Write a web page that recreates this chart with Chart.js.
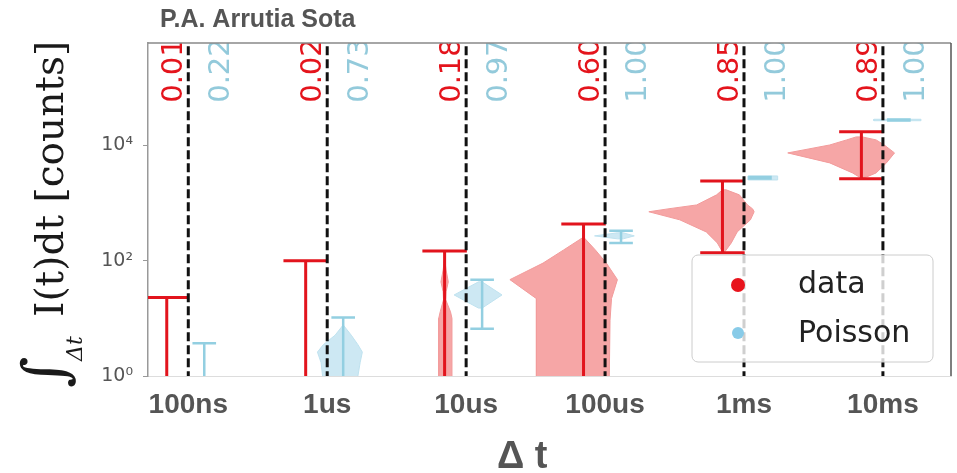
<!DOCTYPE html>
<html>
<head>
<meta charset="utf-8">
<script src="https://cdn.jsdelivr.net/npm/chart.js@4/dist/chart.umd.min.js"></script>
<style>
  html, body { margin: 0; padding: 0; background: #ffffff; }
  canvas { display: block; }
</style>
</head>
<body>
<canvas id="chart" width="957" height="473"></canvas>
<script>
// Integration windows
const categories = ['100ns', '1us', '10us', '100us', '1ms', '10ms'];

// Log axis ticks
const yTicks = [1, 100, 10000];
const yTickLabels = ['10⁰', '10²', '10⁴'];

// Fractions printed above each window
const dataFraction = ['0.01', '0.02', '0.18', '0.60', '0.85', '0.89'];
const poissonFraction = ['0.22', '0.73', '0.97', '1.00', '1.00', '1.00'];

// Error bar extents in counts
const dataLow = [0.5, 0.5, 0.5, 0.5, 137, 2640];
const dataHigh = [23, 100, 148, 436, 2430, 17300];
const poissonLow = [0.5, 0.5, 6.6, 204, 2680, 27100];
const poissonHigh = [3.7, 10.4, 47, 330, 2830, 28300];

// Violin profiles, top to bottom: [counts, density left, density right]
const dataViolin100ns = [];
const dataViolin1us = [];
const dataViolin10us = [
  [112, 0, 0], [69, 0.02, 0.02], [43, 0.05, 0.05], [29, 0.02, 0.02], [21, 0.015, 0.015],
  [13, 0.06, 0.08], [10, 0.08, 0.1], [1, 0.08, 0.1], [0.4, 0.08, 0.1]
];
const dataViolin100us = [
  [257, 0, 0], [154, 0.27, 0.16], [91, 0.55, 0.31], [47, 1.0, 0.46], [22, 0.64, 0.38],
  [9.3, 0.64, 0.36], [1, 0.64, 0.35], [0.4, 0.64, 0.35]
];
const dataViolin1ms = [
  [1700, 0, 0.05], [1390, 0.08, 0.23], [930, 0.35, 0.34], [794, 0.74, 0.41], [708, 1.0, 0.43],
  [513, 0.58, 0.38], [316, 0.22, 0.2], [204, 0.07, 0.12], [142, 0, 0.03]
];
const dataViolin10ms = [
  [14100, 0.07, 0.01], [12500, 0.2, 0.2], [10200, 0.43, 0.31], [7430, 1.0, 0.45],
  [4990, 0.43, 0.34], [3340, 0.12, 0.2], [2840, 0.03, 0.07], [2700, 0, 0]
];

const poissonViolin100ns = [];
const poissonViolin1us = [
  [7.7, 0, 0], [5.1, 0.11, 0.11], [3.5, 0.27, 0.2], [2.6, 0.35, 0.26], [1.7, 0.3, 0.23],
  [1, 0.28, 0.2], [0.4, 0.28, 0.2]
];
const poissonViolin10us = [[43, 0.05, 0], [25.5, 0.38, 0.27], [15.1, 0.05, 0]];
const poissonViolin100us = [[305, 0.05, 0.03], [270, 0.36, 0.18], [240, 0.05, 0.03]];
const poissonViolin1ms = [[2960, 0.16, 0.24], [2750, 0.16, 0.24], [2520, 0.16, 0.24]];
const poissonViolin10ms = [[28500, 0.34, 0.3], [27700, 0.34, 0.3], [26900, 0.34, 0.3]];

const dataViolins = [dataViolin100ns, dataViolin1us, dataViolin10us, dataViolin100us, dataViolin1ms, dataViolin10ms];
const poissonViolins = [poissonViolin100ns, poissonViolin1us, poissonViolin10us, poissonViolin100us, poissonViolin1ms, poissonViolin10ms];

// Drawing geometry (in category units)
const DATA_SHIFT = -0.155;
const POISSON_SHIFT = 0.115;
const DATA_CAP = 0.16;
const POISSON_CAP = 0.085;
const WIDTH_PER_DENSITY = 0.53;

const RED = '#e2141d';
const RED_FILL = '#f6a6a6';
const BLUE = '#93cfe1';
const BLUE_FILL = '#cde8f3';

function violinOutline(profile, cx) {
  if (!profile.length) return [];
  const left = profile.map(([v, l]) => ({ x: cx - l * WIDTH_PER_DENSITY, y: v }));
  const right = profile.slice().reverse().map(([v, , r]) => ({ x: cx + r * WIDTH_PER_DENSITY, y: v }));
  return left.concat(right, [left[0]]);
}

function errorBarPoints(lows, highs, shift, cap) {
  const pts = [];
  lows.forEach((lo, i) => {
    const cx = i + shift, hi = highs[i];
    pts.push({ x: cx - cap, y: hi }, { x: cx + cap, y: hi }, { x: cx, y: null });
    pts.push({ x: cx, y: hi }, { x: cx, y: lo }, { x: cx, y: null });
    pts.push({ x: cx - cap, y: lo }, { x: cx + cap, y: lo }, { x: cx, y: null });
  });
  return pts;
}

const datasets = [];

// dashed window markers
const markerPts = [];
categories.forEach((c, i) => { markerPts.push({ x: i, y: 0.3 }, { x: i, y: 2e6 }, { x: i, y: null }); });
datasets.push({
  label: 'window', data: markerPts, borderColor: '#111111', borderWidth: 3,
  borderDash: [9, 4], fill: false, order: 1
});

// error bars
datasets.push({
  label: 'data range', data: errorBarPoints(dataLow, dataHigh, DATA_SHIFT, DATA_CAP),
  borderColor: RED, borderWidth: 3, fill: false, order: 2
});
datasets.push({
  label: 'Poisson range', data: errorBarPoints(poissonLow, poissonHigh, POISSON_SHIFT, POISSON_CAP),
  borderColor: BLUE, borderWidth: 2.5, fill: false, order: 2
});

// violins
dataViolins.forEach((p, i) => {
  datasets.push({
    label: 'data ' + categories[i], data: violinOutline(p, i + DATA_SHIFT),
    borderColor: '#f29b9b', borderWidth: 1, backgroundColor: RED_FILL, fill: 'shape', order: 3
  });
});
poissonViolins.forEach((p, i) => {
  datasets.push({
    label: 'Poisson ' + categories[i], data: violinOutline(p, i + POISSON_SHIFT),
    borderColor: '#bfe2ef', borderWidth: 1, backgroundColor: BLUE_FILL, fill: 'shape', order: 3
  });
});

const FRACTION_LEVEL = 5.5e4;

const decorations = {
  id: 'decorations',
  afterDatasetsDraw(chart) {
    const { ctx, chartArea: a, scales: { x, y } } = chart;

    // fractions above each window
    ctx.save();
    ctx.beginPath();
    ctx.rect(a.left, a.top, a.right - a.left, a.bottom - a.top);
    ctx.clip();
    ctx.font = '29px "DejaVu Sans"';
    ctx.textAlign = 'left';
    ctx.textBaseline = 'alphabetic';
    const yl = y.getPixelForValue(FRACTION_LEVEL);
    categories.forEach((c, i) => {
      [[dataFraction[i], -0.045, '#e4141c'], [poissonFraction[i], 0.295, '#93cadb']].forEach(([t, dx, col]) => {
        ctx.save();
        ctx.translate(x.getPixelForValue(i + dx), yl);
        ctx.rotate(-Math.PI / 2);
        ctx.fillStyle = col;
        ctx.fillText(t, 0, 0);
        ctx.restore();
      });
    });
    ctx.restore();

    // top and right frame
    ctx.save();
    ctx.lineWidth = 1.5;
    ctx.strokeStyle = '#888888';
    ctx.beginPath();
    ctx.moveTo(a.left, a.top);
    ctx.lineTo(a.right, a.top);
    ctx.stroke();
    ctx.strokeStyle = '#555555';
    ctx.beginPath();
    ctx.moveTo(a.right, a.top);
    ctx.lineTo(a.right, a.bottom);
    ctx.stroke();
    ctx.restore();

    // legend
    ctx.save();
    const lx = 692, ly = 255, lw = 241, lh = 107;
    ctx.beginPath();
    ctx.roundRect(lx, ly, lw, lh, 6);
    ctx.fillStyle = 'rgba(255,255,255,0.8)';
    ctx.fill();
    ctx.strokeStyle = '#cccccc';
    ctx.lineWidth = 1;
    ctx.stroke();
    ctx.fillStyle = '#e8141c';
    ctx.beginPath(); ctx.arc(738, 285, 7, 0, Math.PI * 2); ctx.fill();
    ctx.fillStyle = '#88cbe8';
    ctx.beginPath(); ctx.arc(738, 333, 6, 0, Math.PI * 2); ctx.fill();
    ctx.fillStyle = '#222222';
    ctx.font = '30px "DejaVu Sans"';
    ctx.textAlign = 'left';
    ctx.textBaseline = 'alphabetic';
    ctx.fillText('data', 798, 293);
    ctx.fillText('Poisson', 798, 342);
    ctx.restore();
  },
  afterDraw(chart) {
    const { ctx } = chart;
    ctx.save();
    ctx.fillStyle = '#555555';
    ctx.textAlign = 'left';
    ctx.textBaseline = 'alphabetic';
    ctx.font = 'bold 25px "Liberation Sans", Arial, sans-serif';
    ctx.fillText('P.A. Arrutia Sota', 160, 27);
    ctx.font = 'bold 38px "Liberation Sans", Arial, sans-serif';
    ctx.fillText('Δ t', 497, 468);
    ctx.restore();

    // y axis title
    ctx.save();
    ctx.translate(0, 388);
    ctx.rotate(-Math.PI / 2);
    ctx.fillStyle = '#1a1a1a';
    ctx.textAlign = 'left';
    ctx.textBaseline = 'alphabetic';
    ctx.font = '60px "DejaVu Serif"';
    ctx.fillText('∫', 0, 65);
    ctx.font = 'italic 22px "DejaVu Serif"';
    ctx.fillText('Δt', 27, 82);
    ctx.font = '39px "DejaVu Serif"';
    ctx.fillText('I(t)dt [counts]', 71, 63);
    ctx.restore();
  }
};

new Chart(document.getElementById('chart'), {
  type: 'line',
  data: { datasets },
  options: {
    responsive: false,
    devicePixelRatio: 1,
    animation: false,
    events: [],
    layout: { padding: { top: 43, right: 6, left: 0, bottom: 0 } },
    elements: { point: { radius: 0 }, line: { tension: 0, borderCapStyle: 'butt' } },
    plugins: { legend: { display: false }, tooltip: { enabled: false } },
    scales: {
      x: {
        type: 'linear', min: -0.29, max: 5.49,
        afterBuildTicks: s => { s.ticks = categories.map((c, i) => ({ value: i })); },
        afterFit: s => { s.height = 97; },
        grid: { display: false, drawTicks: false },
        border: { display: true, color: '#dddddd', width: 1 },
        ticks: {
          callback: v => categories[v],
          font: { family: '"Liberation Sans", Arial, sans-serif', size: 28, weight: 'bold' },
          color: '#555555', padding: 12, maxRotation: 0, autoSkip: false
        }
      },
      y: {
        type: 'logarithmic', min: 1, max: 6.0e5,
        afterBuildTicks: s => { s.ticks = yTicks.map(v => ({ value: v })); },
        afterFit: s => { s.width = 148; },
        grid: { display: true, drawOnChartArea: false, drawTicks: true, tickLength: 5, color: '#999999' },
        border: { display: true, color: '#999999', width: 1.5 },
        ticks: {
          callback: v => yTickLabels[yTicks.indexOf(v)],
          font: { family: '"DejaVu Sans"', size: 19 },
          color: '#555555', padding: 10, autoSkip: false
        }
      }
    }
  },
  plugins: [decorations]
});
</script>
</body>
</html>
